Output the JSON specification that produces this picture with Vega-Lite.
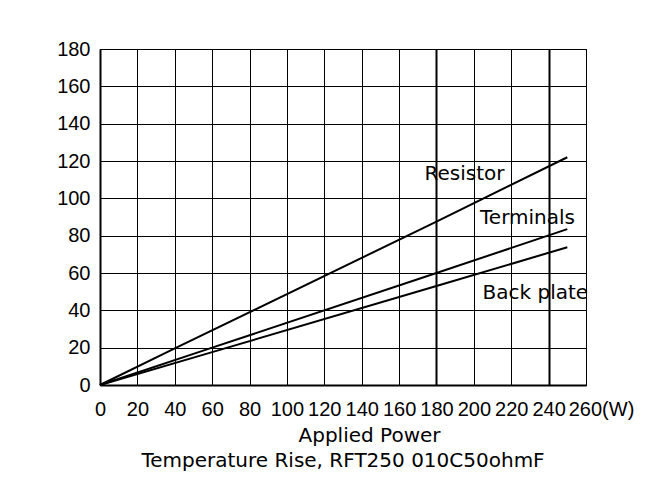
{
  "$schema": "https://vega.github.io/schema/vega-lite/v6.json",
  "width": 486,
  "height": 336,
  "autosize": "none",
  "padding": {"left": 100, "top": 49, "right": 79, "bottom": 107},
  "background": "white",
  "config": {"view": {"stroke": "#000", "strokeWidth": 1}, "font": "DejaVu Sans"},
  "title": {
    "text": "Temperature Rise, RFT250 010C50ohmF",
    "orient": "bottom",
    "anchor": "middle",
    "font": "DejaVu Sans",
    "fontSize": 20,
    "fontWeight": "normal",
    "color": "#000",
    "offset": 6
  },
  "datasets": {
    "curves": [
      {"series": "Resistor", "power": 0, "rise": 0},
      {"series": "Resistor", "power": 40, "rise": 19.6},
      {"series": "Resistor", "power": 180, "rise": 87.5},
      {"series": "Resistor", "power": 250, "rise": 122},
      {"series": "Terminals", "power": 0, "rise": 0},
      {"series": "Terminals", "power": 60, "rise": 20},
      {"series": "Terminals", "power": 180, "rise": 60},
      {"series": "Terminals", "power": 250, "rise": 83.5},
      {"series": "Back plate", "power": 0, "rise": 0},
      {"series": "Back plate", "power": 60, "rise": 17.6},
      {"series": "Back plate", "power": 180, "rise": 53},
      {"series": "Back plate", "power": 250, "rise": 73.8}
    ],
    "labels": [
      {"label": "Resistor", "power": 195, "rise": 113.2},
      {"label": "Terminals", "power": 228.7, "rise": 89.6},
      {"label": "Back plate", "power": 232.9, "rise": 49.2}
    ]
  },
  "encoding": {
    "x": {
      "field": "power",
      "type": "quantitative",
      "scale": {"domain": [0, 260], "nice": false, "zero": true},
      "axis": {
        "values": [0, 20, 40, 60, 80, 100, 120, 140, 160, 180, 200, 220, 240, 260],
        "labelExpr": "datum.value == 260 ? '260(W)' : datum.label",
        "labelOffset": {"condition": {"test": "datum.value == 260", "value": 15}, "value": 0},
        "labelFont": "Liberation Sans",
        "labelFontSize": 20,
        "labelColor": "#000",
        "labelBaseline": "middle",
        "labelPadding": 24,
        "labelFlush": false,
        "labelOverlap": false,
        "ticks": false,
        "tickSize": 0,
        "domainColor": "#000",
        "domainWidth": 2,
        "gridColor": "#000",
        "gridOpacity": 1,
        "gridWidth": {"condition": {"test": "datum.value == 180 || datum.value == 240", "value": 2}, "value": 1},
        "title": "Applied Power",
        "titleFont": "DejaVu Sans",
        "titleFontSize": 20,
        "titleFontWeight": "normal",
        "titleColor": "#000",
        "titleX": 269,
        "titleY": 50,
        "titleAlign": "center",
        "titleBaseline": "middle"
      }
    },
    "y": {
      "field": "rise",
      "type": "quantitative",
      "scale": {"domain": [0, 180], "nice": false},
      "axis": {
        "values": [0, 20, 40, 60, 80, 100, 120, 140, 160, 180],
        "labelFont": "Liberation Sans",
        "labelFontSize": 20,
        "labelColor": "#000",
        "labelPadding": 10,
        "labelFlush": false,
        "labelOverlap": false,
        "ticks": false,
        "tickSize": 0,
        "domainColor": "#000",
        "domainWidth": 2,
        "gridColor": "#000",
        "gridOpacity": 1,
        "gridWidth": 1,
        "title": null
      }
    }
  },
  "layer": [
    {
      "data": {"name": "curves"},
      "mark": {"type": "line", "color": "#000", "strokeWidth": 2},
      "encoding": {
        "detail": {"field": "series", "type": "nominal"}
      }
    },
    {
      "data": {"name": "labels"},
      "mark": {"type": "text", "font": "DejaVu Sans", "fontSize": 20, "align": "center", "baseline": "middle", "color": "#000"},
      "encoding": {
        "text": {"field": "label", "type": "nominal"}
      }
    }
  ]
}
